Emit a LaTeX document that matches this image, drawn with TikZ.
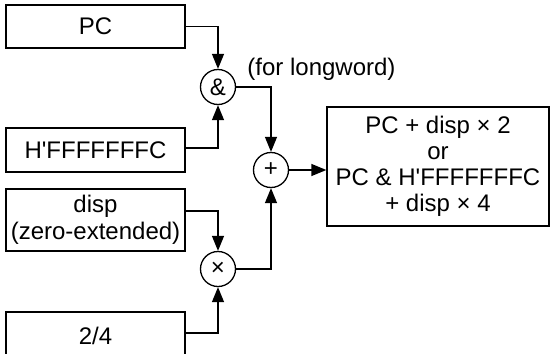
\documentclass[tikz,border=0pt]{standalone}
\usepackage{fontspec}
\setmainfont{Liberation Sans}[Ligatures=TeXOff]
\usetikzlibrary{arrows.meta}
\begin{document}
\begin{tikzpicture}[x=1pt,y=-1pt,
  txt/.style={font=\fontsize{24}{26}\selectfont},
  box/.style={txt, draw, line width=1.3pt, inner sep=0pt, align=center, minimum width=179pt},
  op/.style={txt, draw, circle, line width=1.3pt, minimum size=35pt, inner sep=0pt},
  conn/.style={line width=1.3pt},
  arr/.style={conn, -{Triangle[length=15pt,width=12pt]}}]
\useasboundingbox (0,0) rectangle (550,354);
\clip (0,0) rectangle (550,354);
\node[box, minimum height=43pt] (pc) at (95.5,26.5) {PC};
\node[box, minimum height=44pt] (mask) at (95.5,150) {H'FFFFFFFC};
\node[box, minimum height=62pt, font=\fontsize{24}{27.5}\selectfont] (disp) at (95.5,220) {disp\\(zero-extended)};
\node[box, minimum height=48pt] (scale) at (95.5,336) {2/4};
\node[op] (and) at (218,87) {\&};
\node[op] (plus) at (271,170) {+};
\node[op] (mul) at (218,269) {×};
\node[box, minimum width=222pt, minimum height=119pt] (out) at (438,166.5) {PC + disp × 2\\or\\PC \& H'FFFFFFFC\\+ disp × 4};
\node[txt, anchor=base] (lw) at (321.5,75) {(for longword)};
\draw[arr] (pc.east) -| (and.north);
\draw[arr] ([yshift=2pt]mask.east) -| (and.south);
\draw[arr] (and.east) -| (plus.north);
\draw[arr] ([yshift=9pt]disp.east) -| (mul.north);
\draw[arr] ([yshift=3pt]scale.east) -| (mul.south);
\draw[arr] (mul.east) -| (plus.south);
\draw[arr] (plus.east) -- (plus.east -| out.west);
\end{tikzpicture}
\end{document}
